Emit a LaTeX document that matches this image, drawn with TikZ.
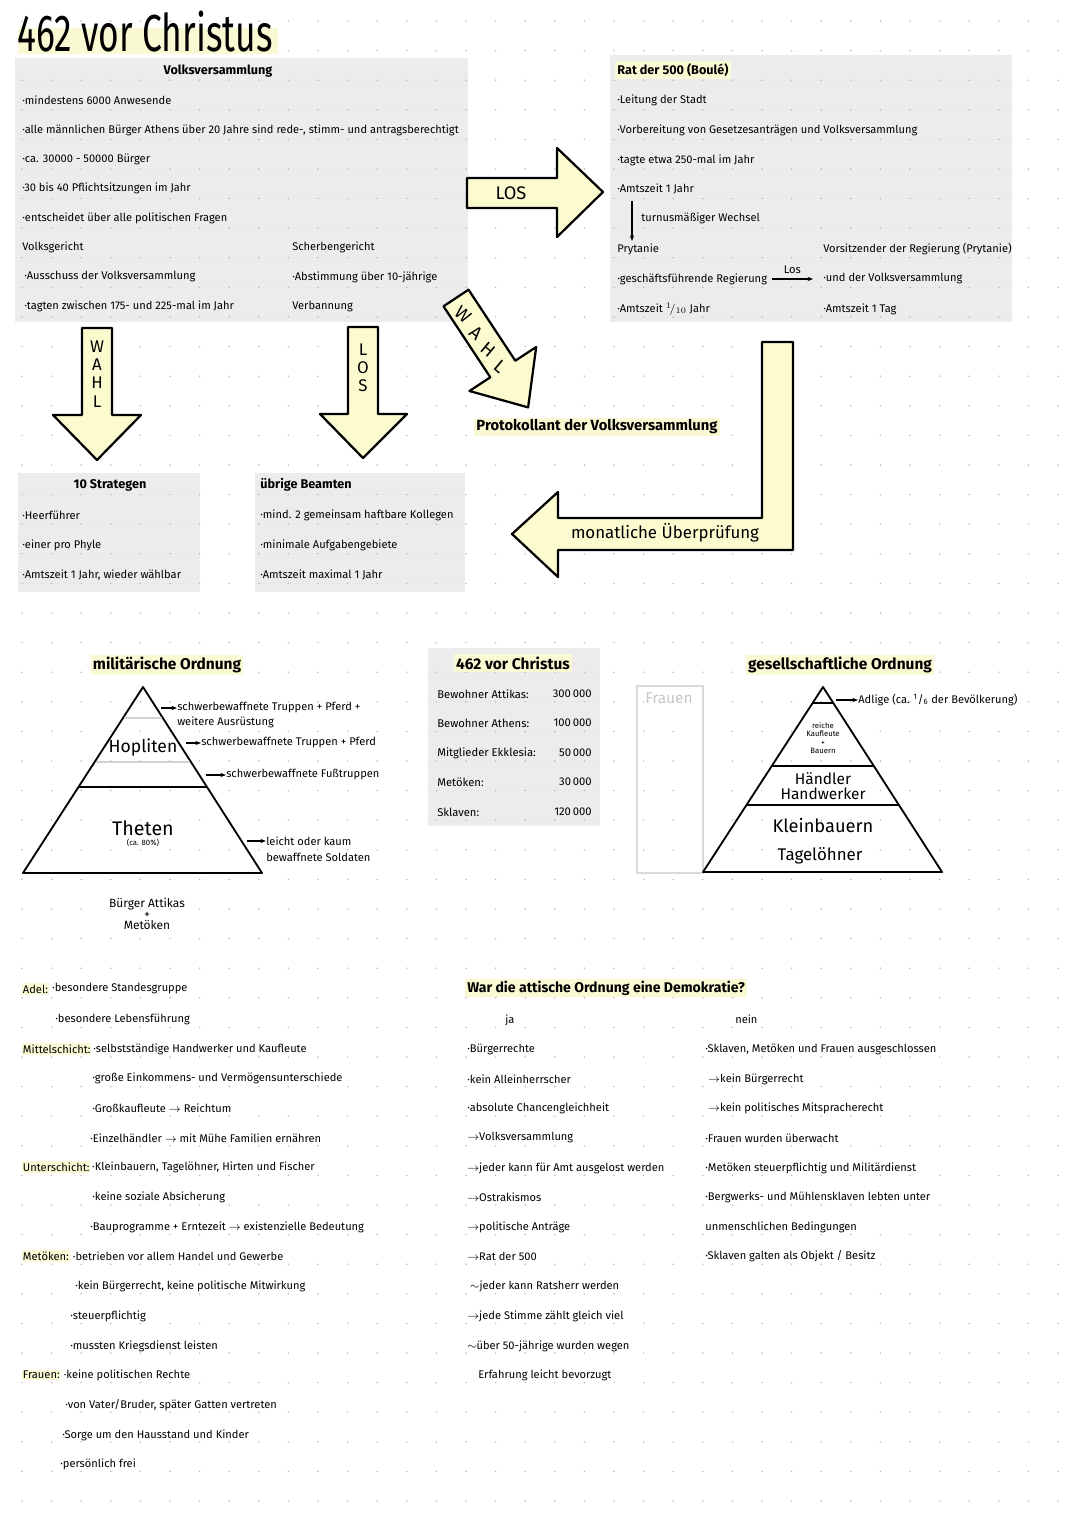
\documentclass[tikz,border=0pt]{standalone}
\usepackage{fontspec}
\setmainfont{Fira Sans}
\usepackage{graphicx}
\usetikzlibrary{arrows.meta}

\definecolor{boxgray}{RGB}{236,236,236}
\definecolor{hlyellow}{RGB}{249,249,212}
\definecolor{arrowyellow}{RGB}{252,251,208}
\definecolor{dotgray}{RGB}{185,185,185}

\newcommand{\sm}{\fontsize{7.9}{9}\selectfont}
\newcommand{\ar}{$\rightarrow$}

\tikzset{
  txt/.style={anchor=west, inner sep=0pt, font=\sm},
  head/.style={inner sep=1.5pt, font=\fontsize{9}{10}\selectfont\bfseries},
  bighead/.style={inner sep=1.5pt, font=\fontsize{11}{12}\selectfont\bfseries},
  hl/.style={fill=hlyellow},
  blockarrow/.style={draw=black, line width=1.6pt, fill=arrowyellow, line join=round},
  pyr/.style={line width=1.3pt, line join=round},
  smallarrow/.style={-{Stealth[length=4pt]}, line width=0.8pt},
  boxline/.style={gray!17, line width=0.5pt},
  letter/.style={inner sep=0pt, font=\fontsize{13}{13}\selectfont},
}

\begin{document}
\begin{tikzpicture}[x=0.25mm, y=-0.25mm]
\useasboundingbox (0,0) rectangle (1080,1526);
\fill[white] (0,0) rectangle (1080,1526);

% grey boxes
\fill[boxgray] (15,58) rectangle (468,322);
\fill[boxgray] (610,55) rectangle (1012,322);
\fill[boxgray] (18,473) rectangle (200,592);
\fill[boxgray] (255,473) rectangle (465,592);
\fill[boxgray] (428,648) rectangle (600,826);
\foreach \j in {2,...,10} {
\draw[boxline] (15,21+29.6*\j) -- (468,21+29.6*\j);
\draw[boxline] (610,21+29.6*\j) -- (1012,21+29.6*\j);
}
\foreach \j in {16,...,19} {
\draw[boxline] (18,21+29.6*\j) -- (200,21+29.6*\j);
\draw[boxline] (255,21+29.6*\j) -- (465,21+29.6*\j);
}
\foreach \j in {22,...,27} \draw[boxline] (428,21+29.6*\j) -- (600,21+29.6*\j);

% dot grid
\foreach \i in {0,...,35} {
\foreach \j in {0,...,51} {
\fill[dotgray] (22+29.6*\i, 21+29.6*\j) circle[radius=0.6pt];
}
}

% title
\fill[hlyellow] (18,28) rectangle (278,54);
\node[anchor=base west, inner sep=0pt] (titel) at (17,52)
  {\scalebox{0.68}[1]{\fontsize{37}{37}\selectfont 462 vor Christus}};

% Volksversammlung
\node[head] (vv) at (218,71) {Volksversammlung};
\foreach \y/\t [count=\i] in {100/{·mindestens 6000 Anwesende},
  130/{·alle männlichen Bürger Athens über 20 Jahre sind rede-, stimm- und antragsberechtigt},
  159/{·ca. 30000 - 50000 Bürger},
  188/{·30 bis 40 Pflichtsitzungen im Jahr},
  218/{·entscheidet über alle politischen Fragen}}
  \node[txt] (vv\i) at (22,\y) {\t};
\node[txt] (vg) at (22,247) {Volksgericht};
\node[txt] (vg1) at (24,277) {·Ausschuss der Volksversammlung};
\node[txt] (vg2) at (24,306) {·tagten zwischen 175- und 225-mal im Jahr};
\node[txt] (sg) at (292,247) {Scherbengericht};
\node[txt] (sg1) at (292,277) {·Abstimmung über 10-jährige};
\node[txt] (sg2) at (292,307) {Verbannung};

% Rat der 500
\node[head, hl, anchor=west] (rat) at (615,70) {Rat der 500 (Boulé)};
\foreach \y/\t [count=\i] in {100/{·Leitung der Stadt},
  130/{·Vorbereitung von Gesetzesanträgen und Volksversammlung},
  160/{·tagte etwa 250-mal im Jahr},
  189/{·Amtszeit 1 Jahr}}
  \node[txt] (rat\i) at (617,\y) {\t};
\coordinate (w1) at (632,201);
\coordinate (w2) at (632,241);
\draw[smallarrow] (w1) -- (w2);
\node[txt] (wechsel) at (641,218) {turnusmäßiger Wechsel};
\node[txt] (pry) at (617,249) {Prytanie};
\node[txt] (gfr) at (617,279) {·geschäftsführende Regierung};
\node[txt] (amt10) at (617,309) {·Amtszeit $^1\!/_{10}$ Jahr};
\node[txt] (vors) at (823,249) {Vorsitzender der Regierung (Prytanie)};
\node[txt] (udv) at (823,279) {·und der Volksversammlung};
\node[txt] (amttag) at (823,309) {·Amtszeit 1 Tag};
\draw[smallarrow] ([xshift=3pt]gfr.east) -- ([xshift=-7pt]udv.west)
  node[midway, above=0pt, font=\sm] {Los};

% block arrows
\draw[blockarrow] (467,178) -- (557,178) -- (557,148) -- (603,192) -- (557,237)
  -- (557,208) -- (467,208) -- cycle;
\node[font=\fontsize{13}{13}\selectfont] (los) at (511,193) {LOS};

\draw[blockarrow] (443.5,306.3) -- (468.5,289.7) -- (515.3,360.7) -- (536.2,347)
  -- (528.1,407.4) -- (469.4,391) -- (490.3,377.3) -- cycle;
\foreach \l/\x/\y [count=\i] in {W/463/315, A/476/333, H/488/350, L/500/367}
  \node[letter, rotate=-40] (wahlb\i) at (\x,\y) {\l};

\draw[blockarrow] (82,328) -- (112,328) -- (112,415) -- (141,415) -- (97,460)
  -- (53,415) -- (82,415) -- cycle;
\node[align=center, font=\fontsize{12}{13}\selectfont] (wahl1) at (97,374) {W\\A\\H\\L};

\draw[blockarrow] (348,327) -- (378,327) -- (378,414) -- (407,414) -- (363,458)
  -- (320,414) -- (348,414) -- cycle;
\node[align=center, font=\fontsize{12}{13}\selectfont] (los2) at (363,368) {L\\O\\S};

\draw[blockarrow] (762,342) -- (793,342) -- (793,550) -- (558,550) -- (558,577)
  -- (512,534) -- (558,492) -- (558,518) -- (762,518) -- cycle;
\node[font=\fontsize{12}{12}\selectfont] (pruef) at (665,533) {monatliche Überprüfung};

\node[bighead, hl, font=\fontsize{10.5}{12}\selectfont\bfseries] (protokoll) at (597,427)
  {Protokollant der Volksversammlung};

% Strategen, Beamte
\node[head] (strat) at (110,485) {10 Strategen};
\node[txt] (strat1) at (22,515) {·Heerführer};
\node[txt] (strat2) at (22,545) {·einer pro Phyle};
\node[txt] (strat3) at (22,575) {·Amtszeit 1 Jahr, wieder wählbar};
\node[head, anchor=west] (beamte) at (258,485) {übrige Beamten};
\node[txt] (beamte1) at (260,515) {·mind. 2 gemeinsam haftbare Kollegen};
\node[txt] (beamte2) at (260,545) {·minimale Aufgabengebiete};
\node[txt] (beamte3) at (260,575) {·Amtszeit maximal 1 Jahr};

% militaerische Ordnung
\node[bighead, hl] (milord) at (167,665) {militärische Ordnung};
\draw[pyr] (143,687) -- (262,873) -- (23,873) -- cycle;
\draw[line width=1.1pt] (78.5,787) -- (207,787);
\draw[gray!35, line width=1pt] (124,718) -- (162,718);
\draw[gray!35, line width=1pt] (96,762) -- (190,762);
\node[font=\fontsize{12.5}{13}\selectfont, inner sep=1pt] (hopliten) at (143,748) {Hopliten};
\node[font=\fontsize{14}{14}\selectfont, inner sep=0pt] (theten) at (143,828) {Theten};
\node[font=\fontsize{5.5}{6}\selectfont, inner sep=0pt] (achtzig) at (143,843) {(ca. 80\%)};
\node[txt] (m1) at (177,708) {schwerbewaffnete Truppen + Pferd +};
\node[txt] (m1b) at (177,722) {weitere Ausrüstung};
\node[txt] (m2) at (201,743) {schwerbewaffnete Truppen + Pferd};
\node[txt] (m3) at (226,775) {schwerbewaffnete Fußtruppen};
\node[txt] (m4) at (266,841) {leicht oder kaum};
\node[txt] (m4b) at (266,857) {bewaffnete Soldaten};
\coordinate (p1) at (161,708);
\coordinate (p2) at (186,743);
\coordinate (p3) at (206,775);
\coordinate (p4) at (247,841);
\draw[smallarrow] (p1) -- (m1.west);
\draw[smallarrow] (p2) -- (m2.west);
\draw[smallarrow] (p3) -- (m3.west);
\draw[smallarrow] (p4) -- (m4.west);
\node[align=center, font=\fontsize{8.5}{8}\selectfont] (buerger) at (147,914)
  {Bürger Attikas\\+\\Metöken};

% Tabelle
\node[bighead, hl] (tabkopf) at (513,663) {462 vor Christus};
\foreach \y/\a/\b [count=\i] in {694/{Bewohner Attikas:}/{300\,000},
  723/{Bewohner Athens:}/{100\,000},
  753/{Mitglieder Ekklesia:}/{50\,000},
  782/{Metöken:}/{30\,000},
  812/{Sklaven:}/{120\,000}} {
  \node[txt, font=\fontsize{8}{9}\selectfont] (tab\i) at (437,\y) {\a};
  \node[anchor=east, inner sep=0pt, font=\fontsize{8}{9}\selectfont] (zahl\i) at (592,\y) {\b};
}

% gesellschaftliche Ordnung
\node[bighead, hl] (gesord) at (840,665) {gesellschaftliche Ordnung};
\draw[gray!30, line width=1pt] (637,686) rectangle (703,873);
\node[gray!45, font=\fontsize{11}{11}\selectfont, inner sep=0pt] (frauenbox) at (669,698) {Frauen};
\draw[pyr] (823,687) -- (942,872) -- (703,872) -- cycle;
\draw[line width=1.1pt] (812.6,703) -- (833.5,703);
\draw[line width=1.1pt] (771.8,766) -- (874,766);
\draw[line width=1.1pt] (746.5,805) -- (898.5,805);
\node[align=center, font=\fontsize{5.5}{6}\selectfont] (reiche) at (823,738)
  {reiche\\Kaufleute\\+\\Bauern};
\node[align=center, font=\fontsize{11}{11}\selectfont] (haendler) at (823,786)
  {Händler\\Handwerker};
\node[font=\fontsize{13}{13}\selectfont] (kleinb) at (823,825) {Kleinbauern};
\node[font=\fontsize{12}{12}\selectfont] (tagel) at (820,856) {Tagelöhner};
\node[txt] (adlige) at (858,700) {Adlige (ca. \textsuperscript{1}/\textsubscript{6} der Bevölkerung)};
\coordinate (p5) at (836,700);
\draw[smallarrow] (p5) -- (adlige.west);

% Schichten
\tikzset{lab/.style={txt, fill=hlyellow, inner xsep=0.5pt, inner ysep=1pt}}
\node[lab] (adel) at (22,989) {Adel:};
\node[txt] (adel1) at ([xshift=2pt]adel.east) {·besondere Standesgruppe};
\node[txt] (adel2) at (55,1019) {·besondere Lebensführung};
\node[lab] (mittel) at (22,1049) {Mittelschicht:};
\node[txt] (mittel1) at ([xshift=1pt]mittel.east) {·selbstständige Handwerker und Kaufleute};
\node[txt] (mittel2) at (92,1078) {·große Einkommens- und Vermögensunterschiede};
\node[txt] (mittel3) at (92,1108) {·Großkaufleute \ar\ Reichtum};
\node[txt] (mittel4) at (90,1138) {·Einzelhändler \ar\ mit Mühe Familien ernähren};
\node[lab] (unter) at (22,1167) {Unterschicht:};
\node[txt] (unter1) at ([xshift=1pt]unter.east) {·Kleinbauern, Tagelöhner, Hirten und Fischer};
\node[txt] (unter2) at (92,1197) {·keine soziale Absicherung};
\node[txt] (unter3) at (90,1227) {·Bauprogramme + Erntezeit \ar\ existenzielle Bedeutung};
\node[lab] (metoeken) at (22,1256) {Metöken:};
\node[txt] (met1) at ([xshift=2pt]metoeken.east) {·betrieben vor allem Handel und Gewerbe};
\node[txt] (met2) at (75,1286) {·kein Bürgerrecht, keine politische Mitwirkung};
\node[txt] (met3) at (70,1316) {·steuerpflichtig};
\node[txt] (met4) at (70,1346) {·mussten Kriegsdienst leisten};
\node[lab] (frauen) at (22,1375) {Frauen:};
\node[txt] (fr1) at ([xshift=2pt]frauen.east) {·keine politischen Rechte};
\node[txt] (fr2) at (65,1405) {·von Vater/Bruder, später Gatten vertreten};
\node[txt] (fr3) at (62,1435) {·Sorge um den Hausstand und Kinder};
\node[txt] (fr4) at (60,1464) {·persönlich frei};

% Demokratie?
\node[bighead, hl, anchor=west, font=\fontsize{10}{12}\selectfont\bfseries] (frage) at (465,988)
  {War die attische Ordnung eine Demokratie?};
\node[txt] (ja) at (505,1020) {ja};
\node[txt] (nein) at (735,1019) {nein};
\foreach \y/\t [count=\i] in {1049/{·Bürgerrechte},
  1079/{·kein Alleinherrscher},
  1108/{·absolute Chancengleichheit},
  1138/{\ar Volksversammlung},
  1168/{\ar jeder kann für Amt ausgelost werden},
  1197/{\ar Ostrakismos},
  1227/{\ar politische Anträge},
  1256/{\ar Rat der 500},
  1286/{\ $\sim$jeder kann Ratsherr werden},
  1316/{\ar jede Stimme zählt gleich viel},
  1346/{$\sim$über 50-jährige wurden wegen},
  1375/{\quad Erfahrung leicht bevorzugt}}
  \node[txt] (ja\i) at (467,\y) {\t};
\foreach \y/\t [count=\i] in {1049/{·Sklaven, Metöken und Frauen ausgeschlossen},
  1079/{\ \ar kein Bürgerrecht},
  1108/{\ \ar kein politisches Mitspracherecht},
  1138/{·Frauen wurden überwacht},
  1168/{·Metöken steuerpflichtig und Militärdienst},
  1197/{·Bergwerks- und Mühlensklaven lebten unter},
  1227/{unmenschlichen Bedingungen},
  1256/{·Sklaven galten als Objekt / Besitz}}
  \node[txt] (nein\i) at (705,\y) {\t};
\end{tikzpicture}
\end{document}
